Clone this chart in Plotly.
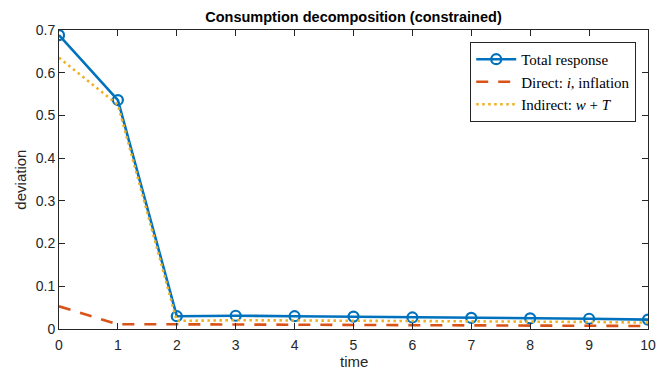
import plotly.graph_objects as go

# Impulse response of consumption and its decomposition
time = list(range(11))
total_response = [0.688, 0.536, 0.030, 0.031, 0.030, 0.029, 0.027, 0.026, 0.025, 0.024, 0.022]
direct_effect = [0.053, 0.011, 0.011, 0.0105, 0.010, 0.0095, 0.009, 0.0085, 0.008, 0.0075, 0.007]
indirect_effect = [0.635, 0.525, 0.019, 0.0205, 0.020, 0.0195, 0.018, 0.0175, 0.017, 0.0165, 0.015]

x_ticks = list(range(11))
y_ticks = [0, 0.1, 0.2, 0.3, 0.4, 0.5, 0.6, 0.7]
y_tick_labels = ["0", "0.1", "0.2", "0.3", "0.4", "0.5", "0.6", "0.7"]

BLUE = "#0072BD"
ORANGE = "#D95319"
YELLOW = "#EDB120"
AXIS = "#262626"
SANS = "Liberation Sans, Arial, sans-serif"
SERIF = "Liberation Serif, Times New Roman, serif"

fig = go.Figure()
fig.add_trace(go.Scatter(
    x=time, y=total_response, mode="lines+markers", name="Total response",
    line=dict(color=BLUE, width=2.6),
    marker=dict(symbol="circle-open", size=10, color=BLUE, line=dict(width=2.2, color=BLUE)),
))
fig.add_trace(go.Scatter(
    x=time, y=direct_effect, mode="lines", name="Direct: <i>i</i>, inflation",
    line=dict(color=ORANGE, width=2.6, dash="12px,10px"),
))
fig.add_trace(go.Scatter(
    x=time, y=indirect_effect, mode="lines", name="Indirect: <i>w</i> + <i>T</i>",
    line=dict(color=YELLOW, width=2.6, dash="2.5px,3.5px"),
))

axis_common = dict(
    showline=True, mirror="ticks", linecolor=AXIS, linewidth=1,
    ticks="inside", ticklen=6, tickcolor=AXIS, tickwidth=1,
    showgrid=False, zeroline=False, automargin=False,
    tickfont=dict(family=SANS, size=14, color=AXIS),
)

fig.update_layout(
    width=658, height=373,
    margin=dict(l=59, r=10, t=30, b=44),
    paper_bgcolor="white", plot_bgcolor="white",
    title=dict(
        text="<b>Consumption decomposition (constrained)</b>",
        x=(59 + 648) / 2 / 658, xanchor="center", y=1 - 17 / 373, yanchor="middle",
        font=dict(family=SANS, size=14.5, color="black"),
    ),
    xaxis=dict(
        range=[0, 10], tickvals=x_ticks, ticktext=[str(t) for t in x_ticks],
        ticklabelstandoff=3,
        **axis_common,
    ),
    yaxis=dict(
        range=[0, 0.7], tickvals=y_ticks, ticktext=y_tick_labels,
        **axis_common,
    ),
    legend=dict(
        x=0.98, y=0.96, xanchor="right", yanchor="top",
        bgcolor="white", bordercolor=AXIS, borderwidth=1,
        font=dict(family=SERIF, size=15, color="black"),
        tracegroupgap=0, itemwidth=40,
    ),
    showlegend=True,
    annotations=[
        dict(text="time", xref="paper", yref="paper", x=0.5, y=-0.11,
             xanchor="center", yanchor="middle", showarrow=False,
             font=dict(family=SANS, size=15, color=AXIS)),
        dict(text="deviation", xref="paper", yref="paper", x=-0.066, y=0.5,
             xanchor="center", yanchor="middle", showarrow=False, textangle=-90,
             font=dict(family=SANS, size=15, color=AXIS)),
    ],
)

fig.write_html("out.html")
